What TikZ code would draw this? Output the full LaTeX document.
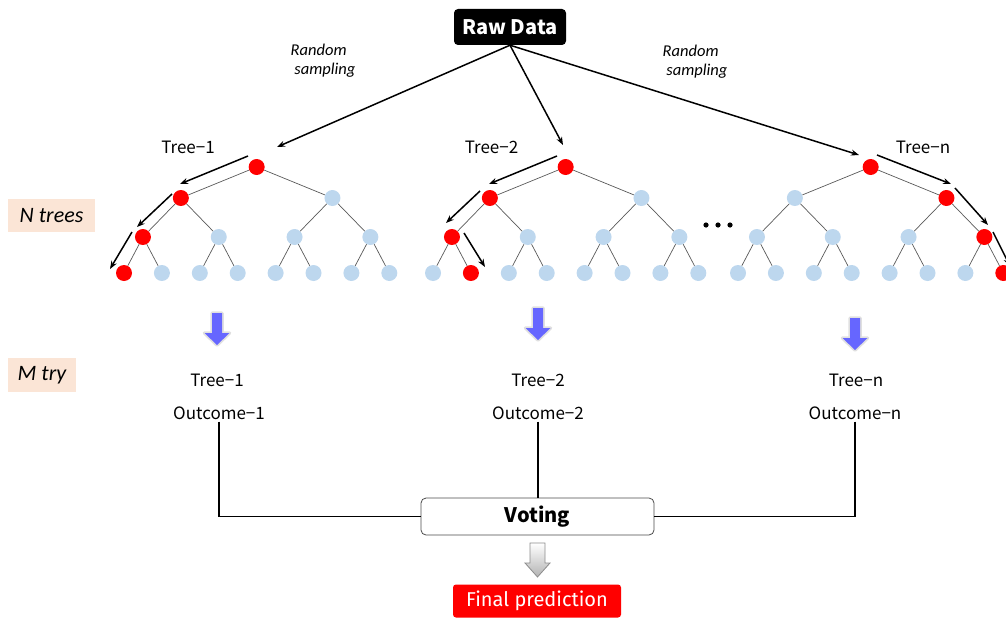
\documentclass[tikz,border=0pt]{standalone}
\usepackage{fontspec}
\setmainfont{Noto Sans CJK KR}
\newfontfamily\itfont{Carlito}
\newfontfamily\fira{Fira Sans}
\usetikzlibrary{arrows.meta,calc}
\definecolor{nodeblue}{HTML}{BDD7EE}
\definecolor{nodered}{HTML}{FF0000}
\definecolor{peach}{HTML}{FBE5D6}
\definecolor{arrowblue}{HTML}{6666FF}
\tikzset{
  tnode/.style={circle,minimum size=16pt,inner sep=0pt},
  edge/.style={draw=black!65,line width=0.7pt},
  patharrow/.style={line width=1.5pt,-{Stealth[length=8pt,width=6pt]}},
  rawarrow/.style={line width=1.5pt,-{Stealth[length=8pt,width=6pt]}},
  lbl/.style={font=\fontsize{17}{20}\selectfont,inner sep=2pt},
  itlbl/.style={font=\itfont\itshape\fontsize{16.5}{21}\selectfont,align=left,inner sep=0pt},
  sidebox/.style={fill=peach,font=\itfont\itshape\fontsize{22}{24}\selectfont,inner sep=0pt},
  bluearrow/.style={fill=arrowblue,preaction={draw=black!12,line width=3.5pt,line join=round}},
  grayarrow/.style={draw=black!45,line width=0.8pt,top color=white,bottom color=black!30},
  conn/.style={line width=1.2pt},
}
% downward block arrow: #1 style, #2 top-centre coordinate, #3 half shaft, #4 shaft length, #5 half head, #6 head length
\newcommand{\blockarrow}[6]{%
  \path[#1] ($(#2)+(-#3,0)$) -- ($(#2)+(#3,0)$) -- ($(#2)+(#3,#4)$) -- ($(#2)+(#5,#4)$)
    -- ($(#2)+(0,#4+#6)$) -- ($(#2)+(-#5,#4)$) -- ($(#2)+(-#3,#4)$) -- cycle;
}
\newcommand{\rftree}[5]{%
  \foreach \i in {0,...,7}{%
    \ifnum\i=#5\relax\def\fc{nodered}\else\def\fc{nodeblue}\fi
    \node[tnode,fill=\fc] (#1-l\i) at ({#2+\i*37.9},273) {};
  }
  \foreach \j in {0,...,3}{%
    \ifnum\j=#4\relax\def\fc{nodered}\else\def\fc{nodeblue}\fi
    \node[tnode,fill=\fc] (#1-b\j) at ({#2+(2*\j+0.5)*37.9},237) {};
  }
  \foreach \m in {0,1}{%
    \ifnum\m=#3\relax\def\fc{nodered}\else\def\fc{nodeblue}\fi
    \node[tnode,fill=\fc] (#1-a\m) at ({#2+(4*\m+1.5)*37.9},198) {};
  }
  \node[tnode,fill=nodered] (#1-r) at ({#2+3.5*37.9},167) {};
  \foreach \m in {0,1}{\draw[edge] (#1-r) -- (#1-a\m);}
  \foreach \j in {0,...,3}{%
    \pgfmathtruncatemacro\p{int(\j/2)}
    \draw[edge] (#1-b\j) -- (#1-a\p);
  }
  \foreach \i in {0,...,7}{%
    \pgfmathtruncatemacro\p{int(\i/2)}
    \draw[edge] (#1-l\i) -- (#1-b\p);
  }
}
\begin{document}
\begin{tikzpicture}[x=1pt,y=-1pt]
\useasboundingbox (0,0) rectangle (1006,618);
\clip (0,0) rectangle (1006,618);

% Raw data
\node[fill=black,text=white,rounded corners=4pt,minimum width=112pt,minimum height=36pt,
  inner sep=0pt,font=\bfseries\fontsize{20}{22}\selectfont] (raw) at (510,27) {Raw Data};

% trees
\rftree{t1}{124}{0}{0}{0}
\rftree{t2}{433}{0}{0}{1}
\rftree{tn}{738}{1}{3}{7}

% labels
\node[lbl] (lt1) at (188,147) {Tree−1};
\node[lbl] (lt2) at (491.5,147) {Tree−2};
\node[lbl] (ltn) at (923,147) {Tree−n};
\node[itlbl] (rs1) at (323,61) {Random\\[-2pt]\ sampling};
\node[itlbl] (rs2) at (695,62) {Random\\[-2pt]\ sampling};
\foreach \k/\dx in {1/706,2/718,3/730}{\fill (\dx,225) circle (2.6pt);}

% raw data arrows
\coordinate (e1) at (277,147);
\coordinate (e2) at (563,145);
\coordinate (e3) at (859,155);
\draw[rawarrow] (raw.south) -- (e1);
\draw[rawarrow] (raw.south) -- (e2);
\draw[rawarrow] (raw.south) -- (e3);

% path arrows
\foreach \n/\ax/\ay/\bx/\by in {1/248/156/180/184, 2/172/194/137/227, 3/132/232/110/269,
  4/557/156/489/184, 5/480/191/446/223, 6/464/233/485/267,
  7/877/155/951/184, 8/955/188/988/225, 9/993/232/1010/266}{%
  \coordinate (pa\n) at (\ax,\ay);
  \coordinate (pb\n) at (\bx,\by);
  \draw[patharrow] (pa\n) -- (pb\n);
}

% side boxes
\node[sidebox,minimum width=87pt,minimum height=33pt] (ntrees) at (51.5,215.5) {N trees};
\node[sidebox,minimum width=68pt,minimum height=34pt] (mtry) at (42,375) {M try};

% blue arrows
\coordinate (ba1) at (217,313);
\coordinate (ba2) at (538,308);
\coordinate (ba3) at (855,318);
\blockarrow{bluearrow}{ba1}{5}{20}{12.5}{12}
\blockarrow{bluearrow}{ba2}{5}{20}{12.5}{12}
\blockarrow{bluearrow}{ba3}{5}{20}{12.5}{12}

% outcomes
\node[lbl] (tr1) at (217,380) {Tree−1};
\node[lbl] (o1) at (219,413) {Outcome−1};
\node[lbl] (tr2) at (538,380) {Tree−2};
\node[lbl] (o2) at (538,413) {Outcome−2};
\node[lbl] (trn) at (856,380) {Tree−n};
\node[lbl] (on) at (855,413) {Outcome−n};

% voting
\node[draw=black!70,line width=0.8pt,rounded corners=5pt,fill=white,minimum width=233pt,
  minimum height=37pt,inner sep=0pt,font=\bfseries\fontsize{20}{22}\selectfont] (vote) at (537.5,516.5) {Voting};
\draw[conn] (o1.south) |- (vote.west);
\draw[conn] (o2.south) -- (o2.south |- vote.north);
\draw[conn] (on.south) |- (vote.east);

% gray arrow and final
\coordinate (ga) at (537.5,543);
\blockarrow{grayarrow}{ga}{7.5}{20}{12.5}{14}
\node[fill=nodered,text=white,rounded corners=3pt,minimum width=168pt,minimum height=33pt,
  inner sep=0pt,font=\fira\fontsize{20}{22}\selectfont] (final) at (537,601) {Final prediction};
\end{tikzpicture}
\end{document}
